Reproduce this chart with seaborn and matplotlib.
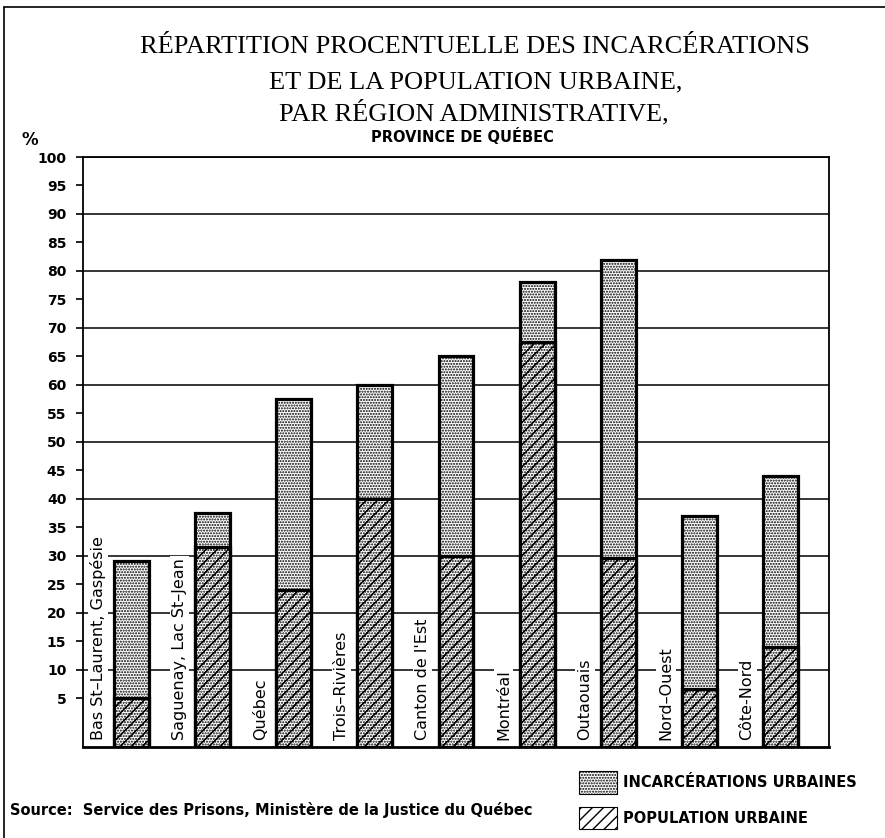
import pandas as pd
import matplotlib
matplotlib.use("Agg")
import matplotlib.pyplot as plt
import seaborn as sns
from matplotlib.patches import Patch
from matplotlib.lines import Line2D

# donnees
regions = ["Bas St–Laurent, Gaspésie", "Saguenay, Lac St–Jean", "Québec",
           "Trois–Rivières", "Canton de l'Est", "Montréal", "Outaouais",
           "Nord–Ouest", "Côte-Nord"]
incarcerations = [29, 37.5, 57.5, 60, 65, 78, 82, 37, 44]
population = [5, 31.5, 24, 40, 30, 67.5, 29.5, 6.5, 14]
yticks = list(range(5, 101, 5))

df = pd.DataFrame({"region": regions, "incarc": incarcerations, "pop": population})

sns.set_style("white")
plt.rcParams["font.family"] = ["DejaVu Sans"]
plt.rcParams["text.color"] = "black"
plt.rcParams["ytick.color"] = "black"
plt.rcParams["hatch.color"] = "black"
plt.rcParams["hatch.linewidth"] = 1.0

fond = "white"
fig = plt.figure(figsize=(8.85, 8.38), dpi=100)
ax = fig.add_axes([83/885, 1-747/838, 746/885, 590/838])

# barres incarcerations (pointillees) puis population (hachurees) par-dessus
sns.barplot(data=df, x="region", y="incarc", ax=ax, color=fond,
            width=0.43, edgecolor="black", linewidth=2.3, saturation=1, zorder=2)
n1 = len(ax.patches)
sns.barplot(data=df, x="region", y="pop", ax=ax, color=fond,
            width=0.43, edgecolor="black", linewidth=2.3, saturation=1, zorder=3)

ax.set_xlim(-0.6, 8.6)
ax.set_ylim(-3.6, 100)
y0 = ax.get_ylim()[0]
for i, p in enumerate(ax.patches):
    # les barres partent du bas du cadre
    p.set_height(p.get_height() - y0)
    p.set_y(y0)
    p.set_facecolor(fond)
    p.set_hatch("......" if i < n1 else "///......")

# grille horizontale tous les 10
for v in range(10, 101, 10):
    ax.axhline(v, color="black", lw=1.1, zorder=1)

ax.set_yticks(yticks)
ax.set_yticklabels([str(t) for t in yticks], fontweight="bold", fontsize=10)
ax.tick_params(axis="y", direction="out", length=5, width=1.2, pad=7, left=True)
ax.set_xticks([])
ax.set_xlabel("")
ax.set_ylabel("")
for s in ax.spines.values():
    s.set_color("black")
    s.set_linewidth(1.3)
ax.spines["bottom"].set_linewidth(2)

# noms des regions, verticaux, a gauche des barres
trans = ax.get_xaxis_transform()
for i, r in enumerate(regions):
    ax.text(i - 0.41, 0.012, r, transform=trans, rotation=90, ha="center", va="bottom",
            fontsize=11.5, bbox=dict(facecolor="white", edgecolor="none", pad=1.5), zorder=4)

fig.text(30/885, 1-140/838, "%", fontsize=12, fontweight="bold", ha="center", va="center")

# titres
tfont = ["Liberation Serif", "DejaVu Serif"]
fig.text(0.537, 1-47/838, "RÉPARTITION PROCENTUELLE DES INCARCÉRATIONS",
         ha="center", va="center", fontsize=19, family=tfont)
fig.text(0.537, 1-82/838, "ET DE LA POPULATION URBAINE,",
         ha="center", va="center", fontsize=19, family=tfont)
fig.text(0.535, 1-113/838, "PAR RÉGION ADMINISTRATIVE,",
         ha="center", va="center", fontsize=19, family=tfont)
fig.text(0.522, 1-137/838, "PROVINCE DE QUÉBEC",
         ha="center", va="center", fontsize=10.5, fontweight="bold")

fig.text(10/885, 1-810/838, "Source:  Service des Prisons, Ministère de la Justice du Québec",
         ha="left", va="center", fontsize=10.5, fontweight="bold")

# legende
handles = [Patch(facecolor=fond, edgecolor="black", hatch="......", lw=0.8),
           Patch(facecolor="white", edgecolor="black", hatch="///", lw=0.8)]
fig.legend(handles, ["INCARCÉRATIONS URBAINES", "POPULATION URBAINE"],
           loc="upper left", bbox_to_anchor=(566/885, 1-758/838), frameon=False,
           handlelength=2.6, handleheight=2.0, handletextpad=0.4, labelspacing=0.9,
           prop={"size": 10.5, "weight": "bold"})

# cadre exterieur
fig.add_artist(Line2D([4/885, 4/885], [0, 1-7/838], color="black", lw=1.2))
fig.add_artist(Line2D([4/885, 1], [1-7/838, 1-7/838], color="black", lw=1.2))

fig.savefig("out.png", dpi=100)
